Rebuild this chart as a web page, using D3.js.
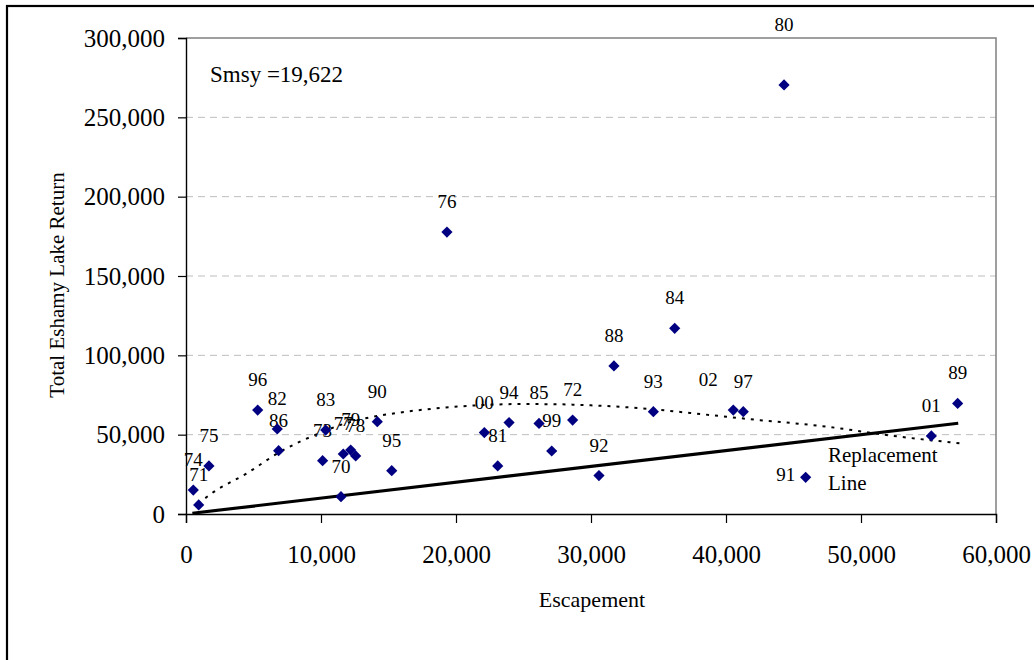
<!DOCTYPE html>
<html>
<head>
<meta charset="utf-8">
<script src="https://cdn.jsdelivr.net/npm/d3@7"></script>
<style>
  html, body { margin: 0; padding: 0; background: #fff; }
  svg { display: block; font-family: "Liberation Serif", "Times New Roman", serif; }
</style>
</head>
<body>
<svg id="chart" width="1034" height="660"></svg>
<script>
// Brood years (two-digit) with spawning escapement and total return
const years = ["70","71","72","73","74","75","76","77","78","79","80","81","82","83","84","85",
               "86","88","89","90","91","92","93","94","95","96","97","99","00","01","02"];
const escapement = [11480, 940, 28640, 10120, 540, 1700, 19330, 11650, 12570, 12200, 44300, 23090,
                    6760, 10350, 36200, 26150, 6860, 31700, 57160, 14170, 45900, 30590, 34620,
                    23930, 15240, 5310, 41280, 27090, 22100, 55210, 40540];
const totalReturn = [10900, 5700, 59200, 33600, 15100, 30300, 177700, 37800, 36600, 40300, 270400,
                     30300, 53600, 52900, 117000, 57100, 39900, 93300, 69700, 58200, 23100, 24200,
                     64500, 57600, 27300, 65500, 64500, 39700, 51300, 49200, 65500];

// Fitted stock-recruitment curve
const curveEsc = [900, 1900, 4500, 7000, 9900, 11400, 13400, 15900, 19800, 22300, 24700, 27200,
                  29700, 32100, 34600, 38100, 41500, 47500, 52400, 57300];
const curveRet = [6500, 13000, 25600, 39300, 51000, 56000, 60500, 64000, 67500, 68800, 69300, 69200,
                  68600, 67600, 66000, 63000, 60000, 55000, 49200, 44600];

// Replacement line (return equals escapement)
const replEsc = [470, 57200];
const replRet = [470, 57200];

const xTicks = [0, 10000, 20000, 30000, 40000, 50000, 60000];
const yTicks = [0, 50000, 100000, 150000, 200000, 250000, 300000];
const smsyLabel = "Smsy =19,622";

// label placement tweaks for crowded points (pixels)
const labelNudge = { "02": [-25, 0], "91": [-20, 28], "80": [0, -30] };

const svg = d3.select("#chart");
const plot = { left: 186, right: 996, top: 38, bottom: 514 };

const x = d3.scaleLinear().domain([0, 60000]).range([plot.left, plot.right]);
const y = d3.scaleLinear().domain([0, 300000]).range([plot.bottom, plot.top]);

// outer frame
svg.append("rect")
  .attr("x", 7).attr("y", 6).attr("width", 1100).attr("height", 800)
  .attr("fill", "none").attr("stroke", "#000").attr("stroke-width", 2.2);

// dashed gridlines
svg.append("g").selectAll("line")
  .data(yTicks.filter(d => d > 0 && d < 300000))
  .join("line")
  .attr("x1", plot.left).attr("x2", plot.right)
  .attr("y1", d => y(d)).attr("y2", d => y(d))
  .attr("stroke", "#bdbdbd").attr("stroke-width", 1)
  .attr("stroke-dasharray", "7,5");

// plot border (top and right)
svg.append("path")
  .attr("d", `M${plot.left},${plot.top}H${plot.right}V${plot.bottom}`)
  .attr("fill", "none").attr("stroke", "#808080").attr("stroke-width", 1.5);

// axes
const fmt = d3.format(",");
const yAxis = svg.append("g")
  .attr("transform", `translate(${plot.left},0)`)
  .call(d3.axisLeft(y).tickValues(yTicks).tickFormat(fmt).tickSize(8).tickPadding(13));
const xAxis = svg.append("g")
  .attr("transform", `translate(0,${plot.bottom})`)
  .call(d3.axisBottom(x).tickValues(xTicks).tickFormat(fmt).tickSize(9).tickPadding(22));
[yAxis, xAxis].forEach(g => {
  g.select(".domain").attr("stroke", "#000").attr("stroke-width", 1.4);
  g.selectAll(".tick line").attr("stroke", "#000").attr("stroke-width", 1.2);
  g.selectAll(".tick text").attr("fill", "#000")
    .style("font-family", "Liberation Serif, serif").style("font-size", "25px");
});

// axis titles
svg.append("text")
  .attr("transform", "translate(64,285) rotate(-90)")
  .attr("text-anchor", "middle")
  .style("font-size", "21px")
  .text("Total Eshamy Lake Return");
svg.append("text")
  .attr("x", 592).attr("y", 607)
  .attr("text-anchor", "middle")
  .style("font-size", "22px")
  .text("Escapement");

// replacement line
const line = d3.line().x(d => x(d[0])).y(d => y(d[1]));
svg.append("path")
  .datum(replEsc.map((d, i) => [d, replRet[i]]))
  .attr("d", line)
  .attr("fill", "none").attr("stroke", "#000").attr("stroke-width", 3.2);

// fitted curve (dotted)
svg.append("path")
  .datum(curveEsc.map((d, i) => [d, curveRet[i]]))
  .attr("d", line.curve(d3.curveMonotoneX))
  .attr("fill", "none").attr("stroke", "#000").attr("stroke-width", 2)
  .attr("stroke-dasharray", "3,6");

const pts = years.map((yr, i) => ({ yr, s: escapement[i], r: totalReturn[i] }));

// year labels
svg.append("g").selectAll("text")
  .data(pts)
  .join("text")
  .attr("x", d => x(d.s) + (labelNudge[d.yr] ? labelNudge[d.yr][0] : 0))
  .attr("y", d => y(d.r) - 24 + (labelNudge[d.yr] ? labelNudge[d.yr][1] : 0))
  .attr("text-anchor", "middle")
  .style("font-size", "19px")
  .text(d => d.yr);

// diamond markers
svg.append("g").selectAll("path")
  .data(pts)
  .join("path")
  .attr("transform", d => `translate(${x(d.s)},${y(d.r)})`)
  .attr("d", "M0,-5.6L5.6,0L0,5.6L-5.6,0Z")
  .attr("fill", "#000080");

// annotations
svg.append("text")
  .attr("x", 210).attr("y", 82)
  .style("font-size", "23px")
  .text(smsyLabel);
svg.append("text")
  .attr("x", 828).attr("y", 462)
  .style("font-size", "21px")
  .text("Replacement");
svg.append("text")
  .attr("x", 828).attr("y", 490)
  .style("font-size", "21px")
  .text("Line");
</script>
</body>
</html>
